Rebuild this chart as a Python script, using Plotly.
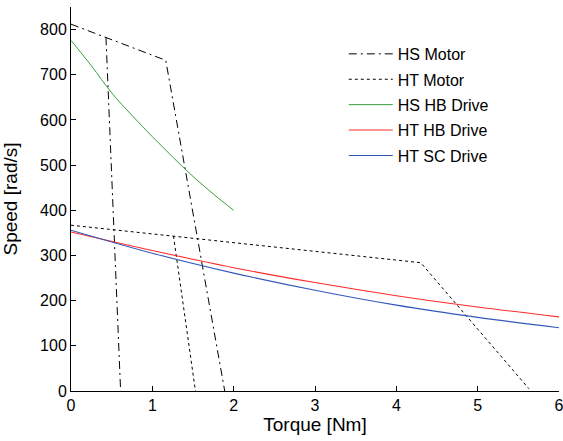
import plotly.graph_objects as go

# HS Motor: main envelope and a second branch (None separates pieces)
hs_motor_x = [0, 0.43, 1.165, 1.89, None, 0.43, 0.61]
hs_motor_y = [812, 783, 732, 0, None, 783, 0]

# HT Motor
ht_motor_x = [0, 1.26, 4.30, 5.63, None, 1.26, 1.53]
ht_motor_y = [367, 343, 284, 5, None, 343, 0]

# HS HB Drive
hs_hb_x = [0, 0.25, 0.5, 0.75, 1.0, 1.25, 1.5, 1.75, 2.0]
hs_hb_y = [776, 720, 660, 610, 563, 518, 475, 436, 400]

# HT HB Drive
ht_hb_x = [0, 1, 2, 3, 4, 5, 6]
ht_hb_y = [352, 311, 273, 240, 211, 186, 164]

# HT SC Drive
ht_sc_x = [0, 1, 2, 3, 4, 5, 6]
ht_sc_y = [356, 305, 261, 223, 190, 163, 140]

x_ticks = [0, 1, 2, 3, 4, 5, 6]
y_ticks = [0, 100, 200, 300, 400, 500, 600, 700, 800]

FONT = "Liberation Sans, Arial, sans-serif"

fig = go.Figure()
fig.add_trace(go.Scatter(x=hs_motor_x, y=hs_motor_y, mode="lines", name="HS Motor",
                         legendgroup="a",
                         line=dict(color="black", width=1, dash="8px,4px,2px,4px")))
fig.add_trace(go.Scatter(x=ht_motor_x, y=ht_motor_y, mode="lines", name="HT Motor",
                         legendgroup="b",
                         line=dict(color="black", width=1, dash="3px,3px")))
fig.add_trace(go.Scatter(x=hs_hb_x, y=hs_hb_y, mode="lines", name="HS HB Drive",
                         legendgroup="c", line_shape="spline",
                         line=dict(color="#3a9e3a", width=1)))
fig.add_trace(go.Scatter(x=ht_hb_x, y=ht_hb_y, mode="lines", name="HT HB Drive",
                         legendgroup="d", line_shape="spline",
                         line=dict(color="#ff2a2a", width=1.1)))
fig.add_trace(go.Scatter(x=ht_sc_x, y=ht_sc_y, mode="lines", name="HT SC Drive",
                         legendgroup="e", line_shape="spline",
                         line=dict(color="#3358bb", width=1.1)))

fig.update_layout(
    width=563, height=441,
    margin=dict(l=71, r=4, t=7, b=50, autoexpand=False),
    paper_bgcolor="white", plot_bgcolor="white",
    font=dict(family=FONT, size=16, color="black"),
    legend=dict(x=0.559, y=0.922, xanchor="left", yanchor="top",
                bgcolor="rgba(0,0,0,0)", traceorder="grouped",
                tracegroupgap=1.6, itemwidth=44, font=dict(size=16)),
    xaxis=dict(range=[0, 6], tickvals=x_ticks, showgrid=False, zeroline=False,
               showline=True, linecolor="black", linewidth=1,
               ticks="inside", ticklen=5, tickcolor="black", automargin=False,
               ticklabeloverflow="allow",
               title=dict(text="Torque [Nm]", standoff=4)),
    yaxis=dict(range=[0, 850], tickvals=y_ticks, showgrid=False, zeroline=False,
               showline=True, linecolor="black", linewidth=1,
               ticks="inside", ticklen=5, tickcolor="black", automargin=False,
               ticklabeloverflow="allow",
               title=dict(text="Speed [rad/s]", standoff=24)),
)

fig.write_html("out.html",
               config={"displayModeBar": False},
               post_script="document.body.style.margin='0';document.body.style.overflow='hidden';")
